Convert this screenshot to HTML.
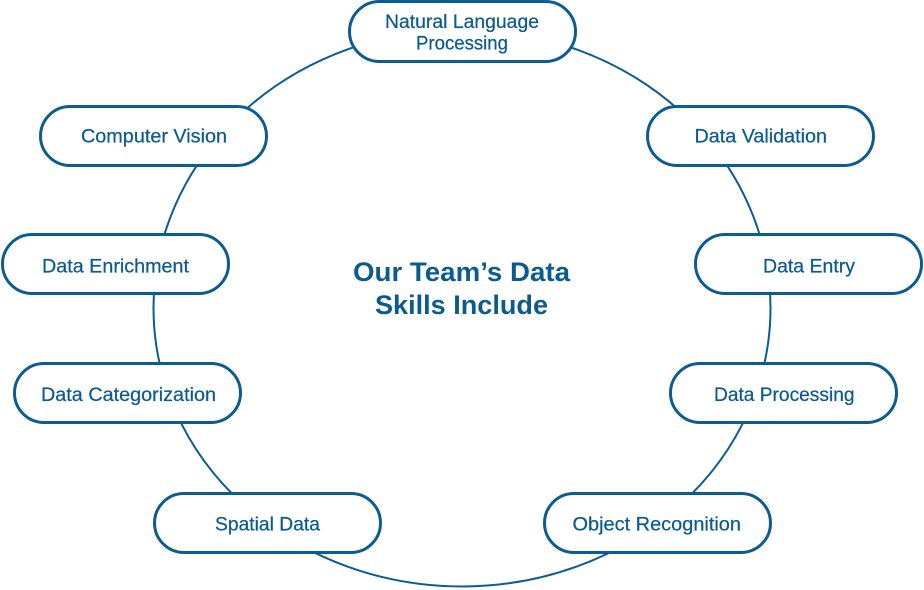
<!DOCTYPE html>
<html>
<head>
<meta charset="utf-8">
<style>
  html, body { margin: 0; padding: 0; background: #ffffff; }
  body { width: 924px; height: 590px; overflow: hidden; }
  svg { display: block; }
  text { font-family: "Liberation Sans", Arial, sans-serif; fill: #0b5b90; }
</style>
</head>
<body>
<svg width="924" height="590" viewBox="0 0 924 590" xmlns="http://www.w3.org/2000/svg">
  <rect x="0" y="0" width="924" height="590" fill="#ffffff"/>
  <!-- ring -->
  <ellipse cx="462" cy="308" rx="308.5" ry="278.5" fill="none" stroke="#0b5c93" stroke-width="2"/>

  <g fill="#ffffff" stroke="#0b5c93" stroke-width="3">
    <rect x="349.5" y="1.5" width="226" height="60" rx="30" ry="30"/>
    <rect x="40.5" y="106.5" width="226" height="59" rx="29.5" ry="29.5"/>
    <rect x="2.5" y="234.5" width="226" height="59" rx="29.5" ry="29.5"/>
    <rect x="647.5" y="106.5" width="226" height="59" rx="29.5" ry="29.5"/>
    <rect x="695.5" y="234.5" width="226" height="59" rx="29.5" ry="29.5"/>
    <rect x="14.5" y="363.5" width="226" height="59" rx="29.5" ry="29.5"/>
    <rect x="154.5" y="493.5" width="226" height="59" rx="29.5" ry="29.5"/>
    <rect x="670.5" y="363.5" width="226" height="59" rx="29.5" ry="29.5"/>
    <rect x="544.5" y="493.5" width="226" height="59" rx="29.5" ry="29.5"/>
  </g>

  <g font-size="19.5" stroke="#0b5b90" stroke-width="0.25">
    <text x="385" y="28" textLength="154" lengthAdjust="spacingAndGlyphs">Natural Language</text>
    <text x="416" y="49.5" textLength="92" lengthAdjust="spacingAndGlyphs">Processing</text>
    <text x="81" y="142.7" textLength="146" lengthAdjust="spacingAndGlyphs">Computer Vision</text>
    <text x="42" y="272.7" textLength="147" lengthAdjust="spacingAndGlyphs">Data Enrichment</text>
    <text x="694.5" y="142.7" textLength="132.5" lengthAdjust="spacingAndGlyphs">Data Validation</text>
    <text x="763" y="272.7" textLength="92" lengthAdjust="spacingAndGlyphs">Data Entry</text>
    <text x="41" y="401" textLength="175" lengthAdjust="spacingAndGlyphs">Data Categorization</text>
    <text x="215" y="530.7" textLength="105" lengthAdjust="spacingAndGlyphs">Spatial Data</text>
    <text x="714" y="401" textLength="140.5" lengthAdjust="spacingAndGlyphs">Data Processing</text>
    <text x="572.5" y="530.7" textLength="168.5" lengthAdjust="spacingAndGlyphs">Object Recognition</text>
  </g>

  <g font-size="27" font-weight="bold">
    <text x="353" y="281" textLength="217" lengthAdjust="spacingAndGlyphs">Our Team’s Data</text>
    <text x="375" y="314" textLength="173" lengthAdjust="spacingAndGlyphs">Skills Include</text>
  </g>
</svg>
</body>
</html>
